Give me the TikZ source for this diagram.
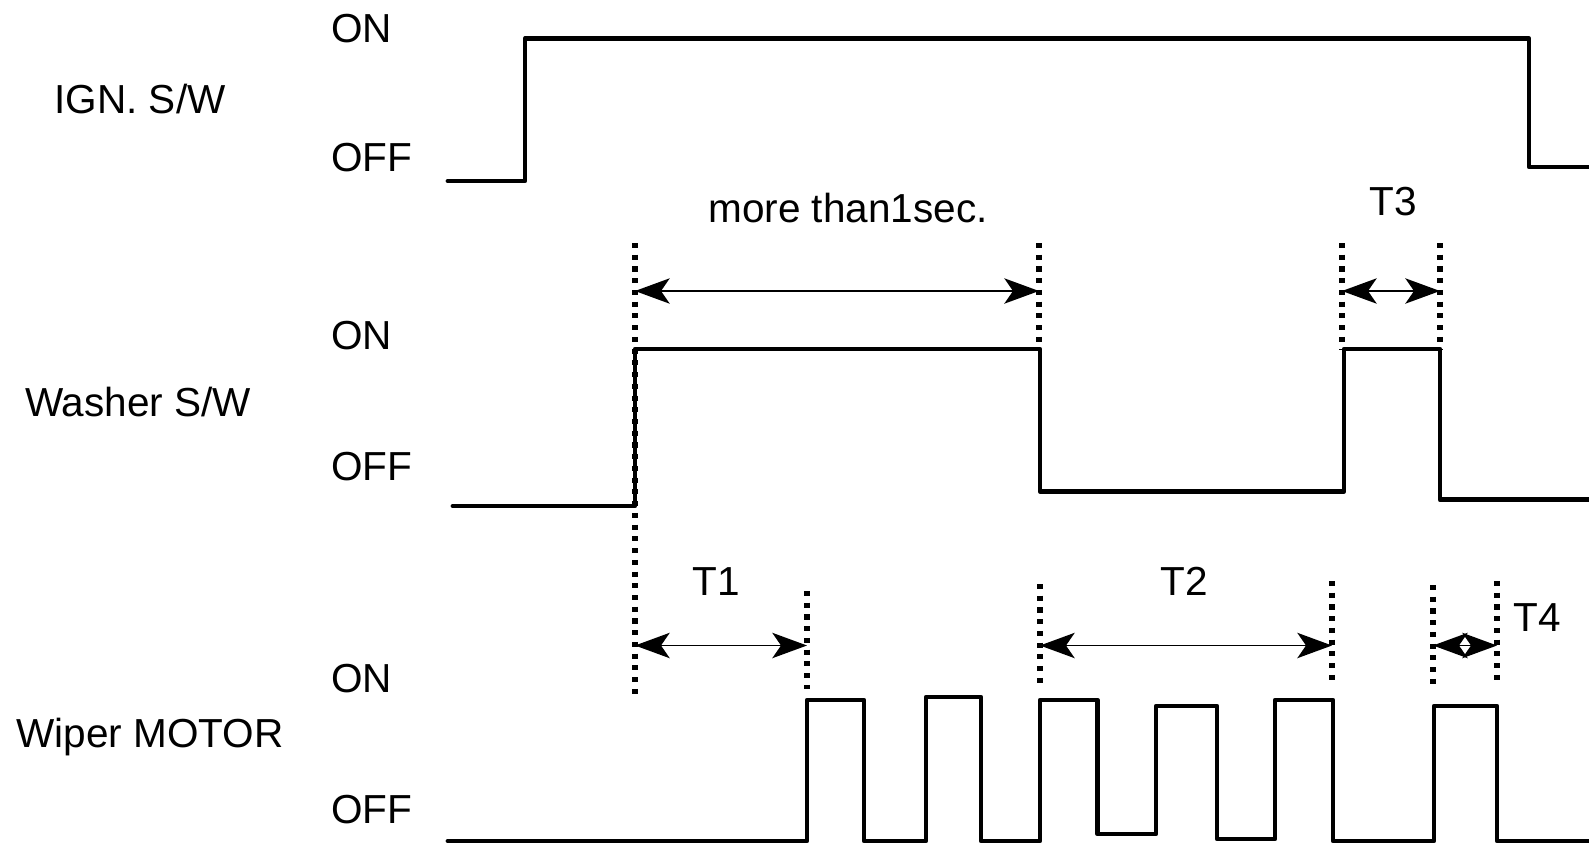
\documentclass[tikz,border=0pt]{standalone}
\usepackage{fontspec}
\setmainfont{Liberation Sans}
\usetikzlibrary{arrows.meta}

\begin{document}
\begin{tikzpicture}[x=0.75pt,y=-0.75pt,
 wave/.style={line width=3.6pt,line join=round,line cap=round},
 guide/.style={line width=3.8pt,dash pattern=on 3.8pt off 5pt},
 span/.style={{Stealth[length=26pt,width=19pt,inset=6.5pt]}-{Stealth[length=26pt,width=19pt,inset=6.5pt]},line width=1.4pt},
 lbl/.style={font=\fontsize{30.4}{36}\selectfont,inner sep=0pt}]
 \useasboundingbox (0,0) rectangle (1589,846);
 % signal names and levels
 \node[lbl,anchor=base] (ign) at (140,113.5) {IGN. S/W};
 \node[lbl,anchor=base west] (ignon) at (331,42.5) {ON};
 \node[lbl,anchor=base west] (ignoff) at (331,171) {OFF};
 \node[lbl,anchor=base] (wash) at (138,416.5) {Washer S/W};
 \node[lbl,anchor=base west] (washon) at (331,349.6) {ON};
 \node[lbl,anchor=base west] (washoff) at (331,480) {OFF};
 \node[lbl,anchor=base] (wiper) at (150,747) {Wiper MOTOR};
 \node[lbl,anchor=base west] (wiperon) at (331,692) {ON};
 \node[lbl,anchor=base west] (wiperoff) at (331,823) {OFF};
 % waveforms
 \draw[wave] (448,181) -| (525,38.5) -| (1529,167) -- (1589,167);
 \draw[wave] (453,506) -| (635,349) -| (1040,491.5) -| (1344,349) -| (1440,499.6) -- (1589,499.6);
 \draw[wave] (448,841) -| (807,700) -| (864,841) -| (926,697) -| (981,841) -| (1040,700) -| (1097.5,834)
  -| (1156,706) -| (1217,839) -| (1275,700) -| (1333,841) -| (1434,706) -| (1497,841) -- (1589,841);
 % time marks
 \coordinate (m1t) at (635,243); \coordinate (m1b) at (635,697);
 \coordinate (m2t) at (1039,243); \coordinate (m2b) at (1039,350);
 \coordinate (m3t) at (1342,243); \coordinate (m3b) at (1342,350);
 \coordinate (m4t) at (1440,243); \coordinate (m4b) at (1440,350);
 \coordinate (m5t) at (807,591); \coordinate (m5b) at (807,689);
 \coordinate (m6t) at (1040,584); \coordinate (m6b) at (1040,685);
 \coordinate (m7t) at (1332,581); \coordinate (m7b) at (1332,681);
 \coordinate (m8t) at (1433,585); \coordinate (m8b) at (1433,687);
 \coordinate (m9t) at (1497,581); \coordinate (m9b) at (1497,681);
 \foreach \m in {1,...,9} \draw[guide] (m\m t) -- (m\m b);
 % spans
 \coordinate (s1a) at (635,291); \coordinate (s1b) at (1039,291);
 \coordinate (s3a) at (1342,291); \coordinate (s3b) at (1440,291);
 \coordinate (t1a) at (635,645.5); \coordinate (t1b) at (807,645.5);
 \coordinate (t2a) at (1040,645.5); \coordinate (t2b) at (1332,645.5);
 \coordinate (t4a) at (1433,645.5); \coordinate (t4b) at (1497,645.5);
 \draw[span] (s1a) -- (s1b); \draw[span] (s3a) -- (s3b);
 \draw[span] (t1a) -- (t1b); \draw[span] (t2a) -- (t2b); \draw[span] (t4a) -- (t4b);
 \node[lbl,anchor=base] (sec) at (848,222) {more than1sec.};
 \node[lbl,anchor=base] (T3) at (1393,215) {T3};
 \node[lbl,anchor=base] (T1) at (716,595) {T1};
 \node[lbl,anchor=base] (T2) at (1184,595) {T2};
 \node[lbl,anchor=base] (T4) at (1537,631) {T4};
\end{tikzpicture}
\end{document}
